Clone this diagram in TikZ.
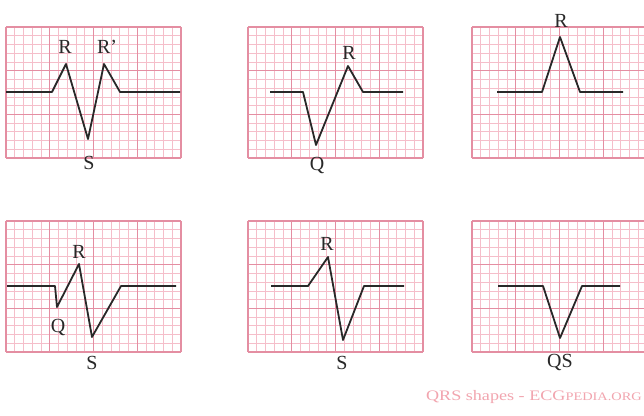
\documentclass[tikz,border=0pt]{standalone}
\usepackage{graphicx}
\usepackage{fontspec}
\setmainfont{Liberation Serif}
\definecolor{minorc}{RGB}{245,190,202}
\definecolor{majorc}{RGB}{228,142,162}
\definecolor{tracec}{RGB}{40,40,40}
\definecolor{capc}{RGB}{242,165,175}
\newcommand\ecgpanel[2]{%
  \begin{scope}[shift={(#1,#2)},x=8.75pt,y=-8.733pt]
    \foreach \i in {0,...,20} \draw[minorline] (\i,0) -- (\i,15);
    \foreach \j in {0,...,15} \draw[minorline] (0,\j) -- (20,\j);
    \foreach \i in {0,5,10,15,20} \draw[majorline] (\i,0) -- (\i,15);
    \foreach \j in {0,5,10,15} \draw[majorline] (0,\j) -- (20,\j);
  \end{scope}}
\begin{document}
\begin{tikzpicture}[x=1pt,y=-1pt,
  minorline/.style={draw=minorc,line width=0.7pt},
  majorline/.style={draw=majorc,line width=1.1pt},
  trace/.style={draw=tracec,line width=1.8pt,line join=round},
  lbl/.style={font=\fontsize{20}{20}\selectfont,text=tracec,inner sep=0pt}]
\useasboundingbox (0,0) rectangle (644,415);
\clip (0,0) rectangle (644,415);
\fill[white] (0,0) rectangle (644,415);
% grids
\ecgpanel{6}{27}
\ecgpanel{248}{27}
\ecgpanel{472}{27}
\ecgpanel{6}{221}
\ecgpanel{248}{221}
\ecgpanel{472}{221}
% traces
\draw[trace] (6,92) -- (52,92) -- (66,64) -- (88,139) -- (104,64) -- (120,92) -- (180,92);
\draw[trace] (270,92) -- (303,92) -- (316,145) -- (348,66) -- (363,92) -- (403,92);
\draw[trace] (497,92) -- (542,92) -- (560,37) -- (580,92) -- (623,92);
\draw[trace] (7,286) -- (55,286) -- (57,307) -- (79,264) -- (92,337) -- (121,286) -- (176,286);
\draw[trace] (271,286) -- (308,286) -- (328,257) -- (343,340) -- (364,286) -- (404,286);
\draw[trace] (498,286) -- (543,286) -- (560,338) -- (582,286) -- (620,286);
% labels
\node[lbl] (r1) at (65,47) {R};
\node[lbl] (r1p) at (107,47) {R'};
\node[lbl] (s1) at (89,163) {S};
\node[lbl] (r2) at (349,53) {R};
\node[lbl] (q2) at (317,165) {Q};
\node[lbl] (r3) at (561,21) {R};
\node[lbl] (r4) at (79,252) {R};
\node[lbl] (q4) at (58,327) {Q};
\node[lbl] (s4) at (92,363) {S};
\node[lbl] (r5) at (327,244) {R};
\node[lbl] (s5) at (342,363) {S};
\node[lbl] (qs6) at (560,362) {QS};
\node[anchor=east,inner sep=0pt,text=capc,font=\fontsize{14.5}{14.5}\selectfont] (cap) at (642,397)
  {\scalebox{1.25}[1]{QRS shapes - ECG{\fontsize{11.5}{11.5}\selectfont PEDIA.ORG}}};
\end{tikzpicture}
\end{document}
